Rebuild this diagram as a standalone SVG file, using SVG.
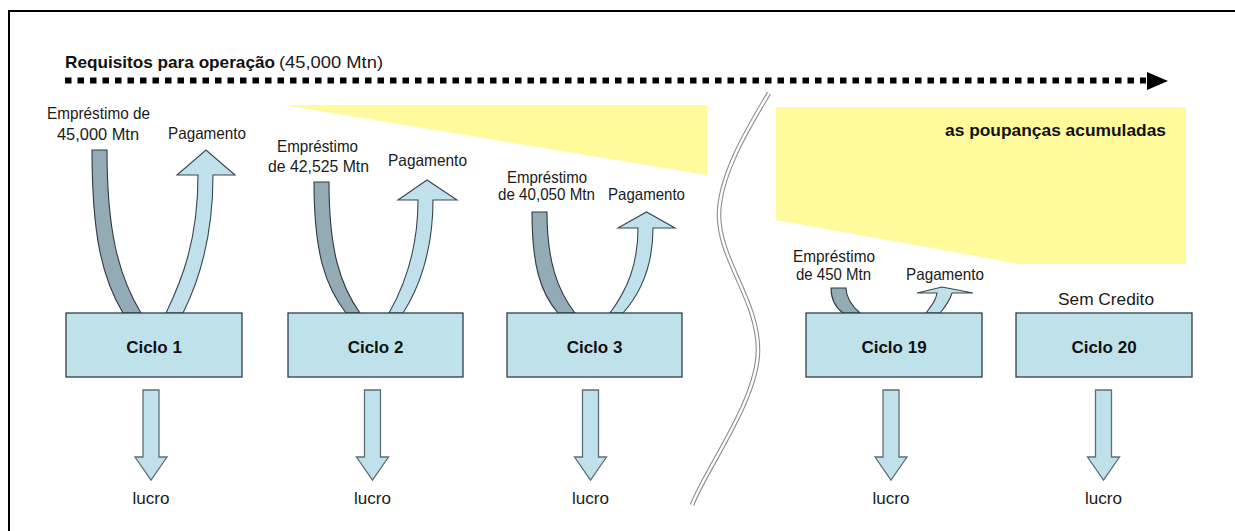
<svg xmlns="http://www.w3.org/2000/svg" width="1235" height="531" viewBox="0 0 1235 531">
  <defs>
    <style>
      .lbl { font-family: "Liberation Sans", Arial, sans-serif; font-size: 16.5px; fill: #1a1a1a; text-anchor: middle; }
      .bold { font-family: "Liberation Sans", Arial, sans-serif; font-weight: bold; fill: #111; }
      .box { fill: #bfe1ea; stroke: #2f3d46; stroke-width: 1.3; }
      .boxtxt { font-family: "Liberation Sans", Arial, sans-serif; font-weight: bold; font-size: 17px; fill: #111; text-anchor: middle; }
      .loan { fill: #93abb5; stroke: #2f3a40; stroke-width: 1.1; stroke-linejoin: miter; }
      .pay { fill: #c0e1eb; stroke: #3a474e; stroke-width: 1.1; stroke-linejoin: miter; }
      .down { fill: #c0e1eb; stroke: #5d6d74; stroke-width: 1.3; }
      .band { fill: #fffb9c; }
    </style>
  </defs>

  <rect x="0" y="0" width="1235" height="531" fill="#ffffff"/>

  <!-- frame -->
  <g id="frame" fill="none" stroke="#000" stroke-width="2">
    <path d="M9,531 L9,11 L1235,11"/>
  </g>

  <!-- savings bands -->
  <g id="savings-band-1">
    <polygon class="band" points="283,105 707,105 707,175"/>
  </g>
  <g id="savings-band-2">
    <polygon class="band" points="776,107 1186,107 1186,264 1020,264 776,220"/>
    <text class="bold" x="1166" y="136" font-size="17" text-anchor="end" textLength="221" lengthAdjust="spacingAndGlyphs">as poupanças acumuladas</text>
  </g>

  <!-- break line -->
  <g id="break-line" fill="none">
    <path d="M769,93 C750,125 719,175 719,215 C719,260 758,300 758,350 C758,400 705,470 692,505" stroke="#8c8c8c" stroke-width="4.6"/>
    <path d="M769,93 C750,125 719,175 719,215 C719,260 758,300 758,350 C758,400 705,470 692,505" stroke="#ffffff" stroke-width="2.4"/>
  </g>

  <!-- title / requirement line -->
  <g id="title">
    <text class="bold" x="65" y="68" font-size="17" textLength="210" lengthAdjust="spacingAndGlyphs">Requisitos para operação</text>
    <text x="279" y="68" font-family="Liberation Sans, Arial, sans-serif" font-size="17" fill="#1a1a1a" textLength="104" lengthAdjust="spacingAndGlyphs">(45,000 Mtn)</text>
  </g>

  <g id="connectors">
    <!-- requirement dotted arrow -->
    <line x1="65" y1="80.5" x2="1146" y2="80.5" stroke="#000" stroke-width="6" stroke-dasharray="6.5 6"/>
    <polygon points="1147,72 1168,81 1147,90" fill="#000"/>

    <!-- cycle 1 -->
    <path class="loan" d="M92,150 L107,150 C107,230 118,275 141,313 L123,313 C102,278 92,235 92,150 Z"/>
    <path class="pay" d="M166,313 C182,280 198,240 198,175 L177,175 L206,150 L235,175 L213,175 C213,240 198,283 183,313 Z"/>
    <!-- cycle 2 -->
    <path class="loan" d="M314,182 L329,182 C329,250 340,285 360,313 L346,313 C326,287 314,255 314,182 Z"/>
    <path class="pay" d="M389,313 C405,285 418,250 418,200 L398,200 L427,180 L457,200 L433,200 C433,252 418,290 403,313 Z"/>
    <!-- cycle 3 -->
    <path class="loan" d="M532,212 L547,212 C547,260 557,290 575,313 L558,313 C540,292 532,265 532,212 Z"/>
    <path class="pay" d="M610,313 C627,290 638,265 638,228 L618,228 L646.5,212 L675,228 L653,228 C653,268 639,295 623,313 Z"/>
    <!-- cycle 19 -->
    <path class="loan" d="M831,288 L846,288 C846,298 852,306 860,313 L843,313 C835,307 831,300 831,288 Z"/>
    <path class="pay" d="M926,313 C932,305 936,300 937,293 L917,293 L942,287 L973,293 L952,293 C950,300 945,307 940,313 Z"/>

    <!-- profit arrows -->
    <path class="down" d="M143,390 L159,390 L159,457 L167,457 L151,480 L135,457 L143,457 Z"/>
    <path class="down" d="M364.5,390 L380.5,390 L380.5,457 L388.5,457 L372.5,480 L356.5,457 L364.5,457 Z"/>
    <path class="down" d="M582.5,390 L598.5,390 L598.5,457 L606.5,457 L590.5,480 L574.5,457 L582.5,457 Z"/>
    <path class="down" d="M883,390 L899,390 L899,457 L907,457 L891,480 L875,457 L883,457 Z"/>
    <path class="down" d="M1095.5,390 L1111.5,390 L1111.5,457 L1119.5,457 L1103.5,480 L1087.5,457 L1095.5,457 Z"/>
  </g>

  <!-- cycle boxes -->
  <g id="ciclo-1">
    <rect class="box" x="66" y="313" width="176" height="64"/>
    <text class="boxtxt" x="154" y="352.5">Ciclo 1</text>
  </g>
  <g id="ciclo-2">
    <rect class="box" x="288" y="313" width="175" height="64"/>
    <text class="boxtxt" x="375.5" y="352.5">Ciclo 2</text>
  </g>
  <g id="ciclo-3">
    <rect class="box" x="507" y="313" width="175" height="64"/>
    <text class="boxtxt" x="594.5" y="352.5">Ciclo 3</text>
  </g>
  <g id="ciclo-19">
    <rect class="box" x="806" y="313" width="176" height="64"/>
    <text class="boxtxt" x="894" y="352.5">Ciclo 19</text>
  </g>
  <g id="ciclo-20">
    <rect class="box" x="1016" y="313" width="176" height="64"/>
    <text class="boxtxt" x="1104" y="352.5">Ciclo 20</text>
  </g>

  <!-- loan / payment labels -->
  <g id="labels-ciclo-1">
    <text class="lbl" x="98.5" y="119" textLength="103" lengthAdjust="spacingAndGlyphs">Empréstimo de</text>
    <text class="lbl" x="98" y="140" textLength="82" lengthAdjust="spacingAndGlyphs">45,000 Mtn</text>
    <text class="lbl" x="207" y="139" textLength="78" lengthAdjust="spacingAndGlyphs">Pagamento</text>
  </g>
  <g id="labels-ciclo-2">
    <text class="lbl" x="317.5" y="152" textLength="81" lengthAdjust="spacingAndGlyphs">Empréstimo</text>
    <text class="lbl" x="318.5" y="172" textLength="101" lengthAdjust="spacingAndGlyphs">de 42,525 Mtn</text>
    <text class="lbl" x="427.5" y="166" textLength="79" lengthAdjust="spacingAndGlyphs">Pagamento</text>
  </g>
  <g id="labels-ciclo-3">
    <text class="lbl" x="547" y="183" textLength="80" lengthAdjust="spacingAndGlyphs">Empréstimo</text>
    <text class="lbl" x="546.5" y="200" textLength="97" lengthAdjust="spacingAndGlyphs">de 40,050 Mtn</text>
    <text class="lbl" x="646.5" y="200" textLength="77" lengthAdjust="spacingAndGlyphs">Pagamento</text>
  </g>
  <g id="labels-ciclo-19">
    <text class="lbl" x="834" y="261.5" textLength="82" lengthAdjust="spacingAndGlyphs">Empréstimo</text>
    <text class="lbl" x="833.5" y="280" textLength="75" lengthAdjust="spacingAndGlyphs">de 450 Mtn</text>
    <text class="lbl" x="945" y="280" textLength="78" lengthAdjust="spacingAndGlyphs">Pagamento</text>
  </g>
  <g id="labels-ciclo-20">
    <text class="lbl" x="1106" y="305" textLength="96" lengthAdjust="spacingAndGlyphs">Sem Credito</text>
  </g>

  <!-- profit labels -->
  <g id="lucro-labels">
    <text class="lbl" x="151" y="504" textLength="37" lengthAdjust="spacingAndGlyphs">lucro</text>
    <text class="lbl" x="372.5" y="504" textLength="37" lengthAdjust="spacingAndGlyphs">lucro</text>
    <text class="lbl" x="590.5" y="504" textLength="37" lengthAdjust="spacingAndGlyphs">lucro</text>
    <text class="lbl" x="891" y="504" textLength="37" lengthAdjust="spacingAndGlyphs">lucro</text>
    <text class="lbl" x="1103.5" y="504" textLength="37" lengthAdjust="spacingAndGlyphs">lucro</text>
  </g>
</svg>
